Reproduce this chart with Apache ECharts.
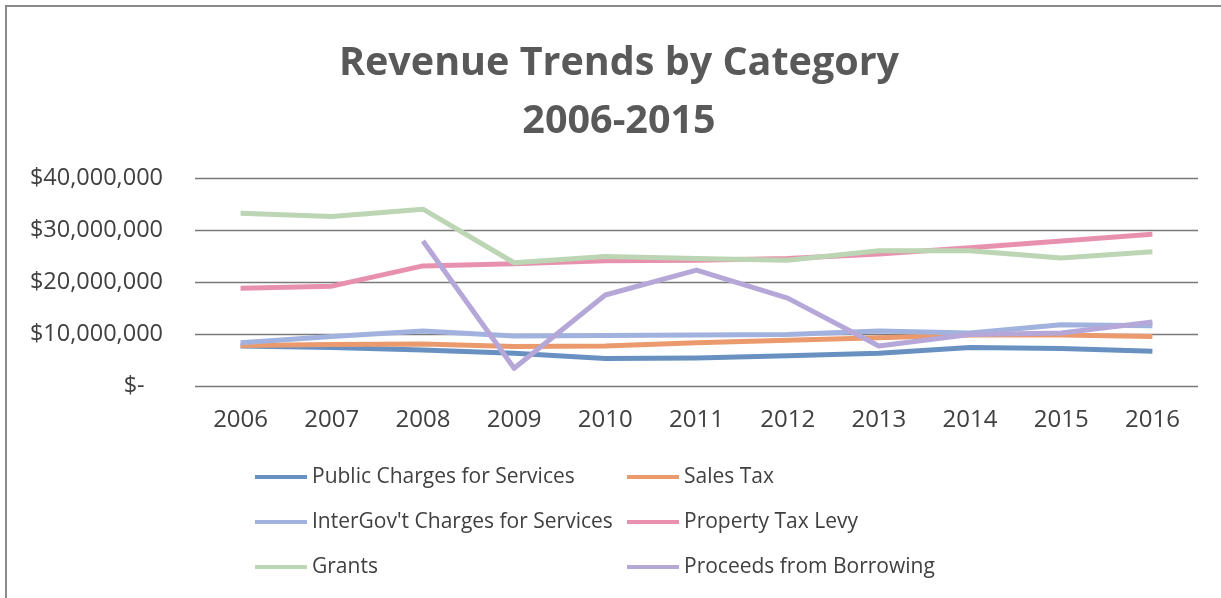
<!DOCTYPE html>
<html>
<head>
<meta charset="utf-8">
<script src="https://cdn.jsdelivr.net/npm/echarts@6/dist/echarts.min.js"></script>
<style>
  html, body { margin: 0; padding: 0; background: #ffffff; }
  #chart { width: 1221px; height: 598px; }
</style>
</head>
<body>
<div id="chart"></div>
<script>
// Revenue by category, in dollars, one value per year
const years = ['2006', '2007', '2008', '2009', '2010', '2011', '2012', '2013', '2014', '2015', '2016'];

const publicCharges = [7700000, 7400000, 6900000, 6300000, 5300000, 5400000, 5800000, 6300000, 7400000, 7200000, 6700000];
const salesTax      = [7800000, 8000000, 8100000, 7600000, 7700000, 8300000, 8800000, 9300000, 9800000, 9800000, 9500000];
const interGov      = [8300000, 9500000, 10600000, 9600000, 9700000, 9800000, 9900000, 10600000, 10200000, 11800000, 11600000];
const propertyTax   = [18800000, 19200000, 23100000, 23500000, 24100000, 24200000, 24500000, 25400000, 26600000, 27900000, 29200000];
const grants        = [33200000, 32600000, 34000000, 23700000, 24900000, 24500000, 24200000, 26000000, 26000000, 24600000, 25800000];
const borrowing     = [null, null, 27900000, 3400000, 17500000, 22300000, 16900000, 7700000, 9900000, 10200000, 12300000];

const yTicks = [0, 10000000, 20000000, 30000000, 40000000];

const seriesDefs = [
  { name: 'Public Charges for Services', data: publicCharges, color: '#6891c2' },
  { name: 'Sales Tax', data: salesTax, color: '#eb9a6e' },
  { name: "InterGov't Charges for Services", data: interGov, color: '#a2b2de' },
  { name: 'Property Tax Levy', data: propertyTax, color: '#e891ae' },
  { name: 'Grants', data: grants, color: '#bcd5b4' },
  { name: 'Proceeds from Borrowing', data: borrowing, color: '#b5a8d8' }
];

const FONT = '"Open Sans", "Noto Sans", sans-serif';

function money(v) {
  if (v === 0) return '$-   ';
  return '$' + v.toString().replace(/\B(?=(\d{3})+(?!\d))/g, ',');
}

const legendText = { fontFamily: FONT, fontSize: 21, color: '#404040', lineHeight: 24 };

function legendColumn(left, names) {
  return {
    orient: 'vertical',
    left: left,
    top: 460,
    itemWidth: 52,
    itemHeight: 4,
    itemGap: 21,
    icon: 'rect',
    textStyle: legendText,
    data: names
  };
}

const chart = echarts.init(document.getElementById('chart'), null, { renderer: 'canvas' });
chart.setOption({
  backgroundColor: '#ffffff',
  animation: false,
  title: {
    text: 'Revenue Trends by Category\n2006-2015',
    left: 614,
    textAlign: 'center',
    top: 30,
    textStyle: {
      fontFamily: FONT,
      fontSize: 39.5,
      fontWeight: 'bold',
      color: '#595959',
      lineHeight: 58
    }
  },
  graphic: [{
    type: 'rect',
    shape: { x: 6, y: 6, width: 1240, height: 620 },
    style: { fill: 'none', stroke: '#8a8a8a', lineWidth: 2 },
    silent: true
  }],
  legend: [
    legendColumn(250, [seriesDefs[0].name, seriesDefs[2].name, seriesDefs[4].name]),
    legendColumn(622, [seriesDefs[1].name, seriesDefs[3].name, seriesDefs[5].name])
  ],
  grid: { left: 195, right: 23, top: 178, bottom: 212, containLabel: false },
  xAxis: {
    type: 'category',
    data: years,
    boundaryGap: true,
    axisLine: { show: false },
    axisTick: { show: false },
    axisLabel: { fontFamily: FONT, fontSize: 24, color: '#404040', margin: 22 }
  },
  yAxis: {
    type: 'value',
    min: yTicks[0],
    max: yTicks[yTicks.length - 1],
    interval: yTicks[1] - yTicks[0],
    axisLine: { show: false },
    axisTick: { show: false },
    axisLabel: {
      fontFamily: FONT, fontSize: 23.5, color: '#404040', margin: 32,
      formatter: money
    },
    splitLine: { lineStyle: { color: '#7a7a7a', width: 1.3 } }
  },
  series: seriesDefs.map(s => ({
    name: s.name,
    type: 'line',
    data: s.data,
    color: s.color,
    showSymbol: false,
    symbol: 'none',
    connectNulls: false,
    lineStyle: { width: 5, color: s.color, cap: 'butt', join: 'round' },
    itemStyle: { color: s.color }
  }))
});
</script>
</body>
</html>
